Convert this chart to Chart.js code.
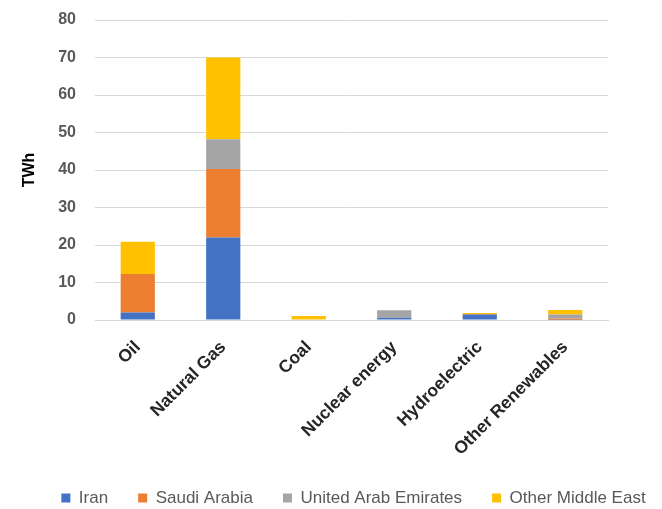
<!DOCTYPE html>
<html>
<head>
<meta charset="utf-8">
<script src="https://cdn.jsdelivr.net/npm/chart.js@4.4.0/dist/chart.umd.min.js"></script>
<style>
  html, body { margin: 0; padding: 0; background: #fff; }
  #wrap { width: 662px; height: 509px; position: relative; }
</style>
</head>
<body>
<div id="wrap"><canvas id="energyChart"></canvas></div>
<script>
// categories and values (TWh)
const sources = ["Oil", "Natural Gas", "Coal", "Nuclear energy", "Hydroelectric", "Other Renewables"];
const iran = [2.0, 22.0, 0, 0.6, 1.5, 0.1];
const saudiArabia = [10.3, 18.3, 0, 0, 0.1, 0.3];
const uae = [0, 7.9, 0, 2.0, 0, 1.1];
const otherMiddleEast = [8.6, 21.8, 1.1, 0, 0.3, 1.2];
const yTicks = [0, 10, 20, 30, 40, 50, 60, 70, 80];

const colours = ["#4472c4", "#ed7d31", "#a5a5a5", "#ffc000"];
const fontFamily = "'Liberation Sans', Arial, sans-serif";

new Chart("energyChart", {
  type: "bar",
  data: {
    labels: sources,
    datasets: [
      { label: "Iran", data: iran, backgroundColor: colours[0] },
      { label: "Saudi Arabia", data: saudiArabia, backgroundColor: colours[1] },
      { label: "United Arab Emirates", data: uae, backgroundColor: colours[2] },
      { label: "Other Middle East", data: otherMiddleEast, backgroundColor: colours[3] }
    ]
  },
  options: {
    responsive: true,
    maintainAspectRatio: false,
    animation: false,
    // negative right/bottom let the legend run as wide and low as the original
    layout: { padding: { top: 20, right: -25, left: 20, bottom: -7.5 } },
    datasets: { bar: { categoryPercentage: 1.0, barPercentage: 0.4 } },
    scales: {
      x: {
        stacked: true,
        grid: { display: false, drawTicks: false },
        border: { color: "#d9d9d9" },
        afterFit: scale => { scale.height = 139.5; },
        ticks: {
          minRotation: 45,
          maxRotation: 45,
          padding: 17,
          labelOffset: 0,
          color: "#262626",
          font: { family: fontFamily, size: 17.5, weight: "bold" }
        }
      },
      y: {
        stacked: true,
        min: 0,
        max: 80,
        afterBuildTicks: axis => { axis.ticks = yTicks.map(v => ({ value: v })); },
        afterFit: scale => { scale.width = 75; },
        // invisible tick marks keep the labels off the plot without padding the top
        grid: { color: "#d9d9d9", drawTicks: true, tickLength: 18, tickColor: "rgba(0,0,0,0)" },
        border: { display: false },
        ticks: {
          padding: 1,
          color: "#595959",
          font: { family: fontFamily, size: 16, weight: "bold" }
        },
        title: {
          display: true,
          text: "TWh",
          color: "#000",
          padding: { top: 0, bottom: 0 },
          font: { family: fontFamily, size: 16, weight: "bold" }
        }
      },
      // empty spacer on the right so the plot stops where the original does
      spacer: {
        position: "right",
        grid: { display: false, drawTicks: false },
        border: { display: false },
        ticks: { display: false },
        afterFit: scale => { scale.width = 79; }
      }
    },
    plugins: {
      legend: {
        position: "bottom",
        labels: {
          boxWidth: 9,
          boxHeight: 9,
          padding: 30,
          color: "#595959",
          font: { family: fontFamily, size: 17 }
        }
      },
      tooltip: { enabled: false }
    }
  }
});
</script>
</body>
</html>
